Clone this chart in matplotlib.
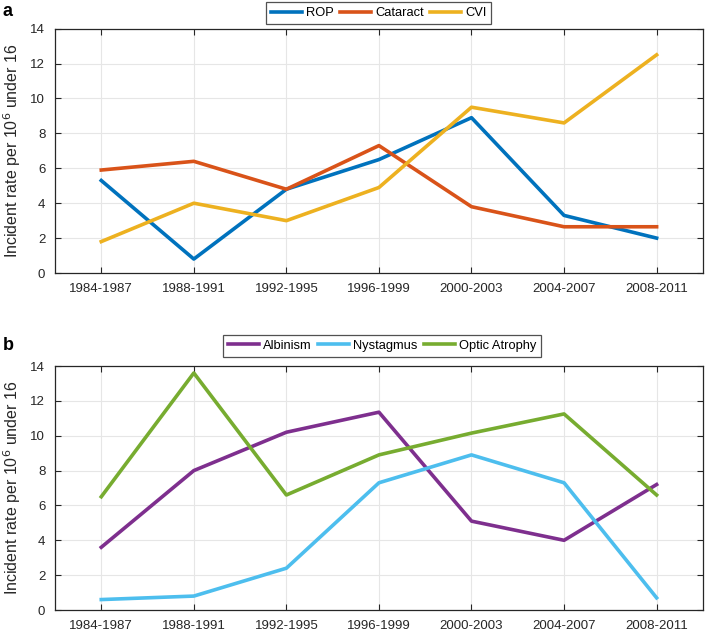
import matplotlib
matplotlib.use('Agg')
import matplotlib.pyplot as plt
import numpy as np

plt.rcParams['font.family'] = ['Liberation Sans', 'DejaVu Sans']
plt.rcParams['font.size'] = 9

periods = ['1984-1987', '1988-1991', '1992-1995', '1996-1999',
           '2000-2003', '2004-2007', '2008-2011']

# panel a
rop = [5.3, 0.8, 4.8, 6.5, 8.9, 3.3, 2.0]
cataract = [5.9, 6.4, 4.8, 7.3, 3.8, 2.65, 2.65]
cvi = [1.8, 4.0, 3.0, 4.9, 9.5, 8.6, 12.5]

# panel b
albinism = [3.6, 8.0, 10.2, 11.35, 5.1, 4.0, 7.2]
nystagmus = [0.6, 0.8, 2.4, 7.3, 8.9, 7.3, 0.7]
optic_atrophy = [6.5, 13.6, 6.6, 8.9, 10.15, 11.25, 6.6]

fig = plt.figure(figsize=(7.05, 6.33), dpi=100)
ax_a = fig.add_axes([0.078, 0.5687, 0.919, 0.386])
ax_b = fig.add_axes([0.078, 0.0363, 0.919, 0.3855])

x = np.arange(1, len(periods) + 1)


def style(ax, series, names, colors, legend_bbox):
    for y, name, c in zip(series, names, colors):
        ax.plot(x, y, color=c, linewidth=2.6, label=name)
    ax.set_xlim(0.5, 7.5)
    ax.set_ylim(0, 14)
    ax.set_xticks(x)
    ax.set_xticklabels(periods)
    ax.set_yticks(range(0, 15, 2))
    ax.grid(True, color='#e6e6e6', linewidth=0.8)
    ax.set_axisbelow(True)
    ax.tick_params(direction='in', length=4, top=True, right=True,
                   colors='#262626', labelsize=9.5, pad=7)
    for s in ax.spines.values():
        s.set_color('#262626')
        s.set_linewidth(0.9)
    ax.set_ylabel('Incident rate per 10$^{6}$ under 16', fontsize=11.5,
                  color='#262626', labelpad=5)
    leg = ax.legend(loc='center', bbox_to_anchor=legend_bbox, ncol=3,
                    fontsize=9.3, frameon=True, fancybox=False,
                    handlelength=2.4, handletextpad=0.35, columnspacing=0.45,
                    borderpad=0.35, edgecolor='#262626')
    leg.get_frame().set_linewidth(0.9)


style(ax_a, [rop, cataract, cvi], ['ROP', 'Cataract', 'CVI'],
      ['#0072BD', '#D95319', '#EDB120'], (0.5, 1.064))
style(ax_b, [albinism, nystagmus, optic_atrophy],
      ['Albinism', 'Nystagmus', 'Optic Atrophy'],
      ['#7E2F8E', '#4DBEEE', '#77AC30'], (0.505, 1.082))

fig.text(0.004, 0.995, 'a', fontsize=13, fontweight='bold', va='top')
fig.text(0.004, 0.468, 'b', fontsize=13, fontweight='bold', va='top')

fig.savefig('out.png', dpi=100)
